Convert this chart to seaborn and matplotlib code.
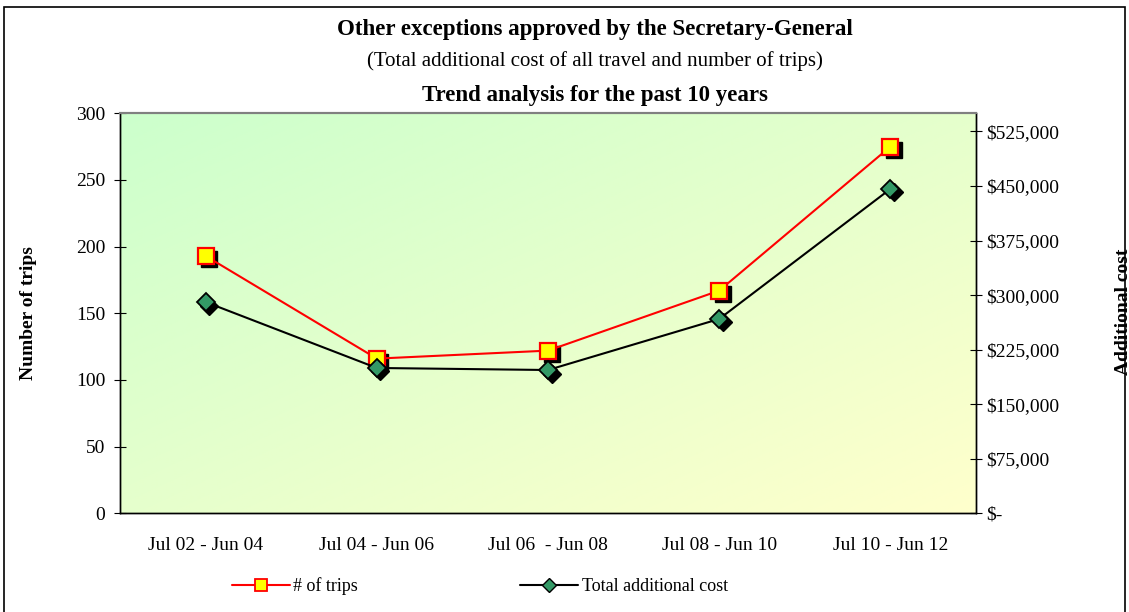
"""
Other exceptions approved by the Secretary-General - trips and additional cost
"""
import numpy as np
import pandas as pd
import matplotlib
matplotlib.use('Agg')
import matplotlib.pyplot as plt
import matplotlib.transforms as mtransforms
from matplotlib.colors import to_rgb
from matplotlib.lines import Line2D
from matplotlib.patches import Rectangle
import seaborn as sns

periods = ['Jul 02 - Jun 04', 'Jul 04 - Jun 06', 'Jul 06  - Jun 08',
           'Jul 08 - Jun 10', 'Jul 10 - Jun 12']
trips = [193, 116, 122, 167, 275]
cost = [290500, 199800, 197000, 267200, 446000]

cost_ticks = [0, 75000, 150000, 225000, 300000, 375000, 450000, 525000]

sns.set_theme(style='white')
plt.rcParams['font.family'] = ['Liberation Serif', 'DejaVu Serif']
plt.rcParams['text.color'] = 'black'
plt.rcParams['axes.labelcolor'] = 'black'
plt.rcParams['xtick.color'] = 'black'
plt.rcParams['ytick.color'] = 'black'

df = pd.DataFrame({'period': periods, 'trips': trips, 'cost': cost})
df['pos'] = np.arange(len(periods))

fig = plt.figure(figsize=(11.29, 6.12), dpi=100)
ax = fig.add_axes([0.1063, 0.1613, 0.7582, 0.6536])
ax2 = ax.twinx()

# diagonal gradient background (green top-left -> yellow bottom-right)
c0 = np.array(to_rgb('#ccffcc'))
c1 = np.array(to_rgb('#ffffcc'))
gx, gy = np.meshgrid(np.linspace(0, 1, 200), np.linspace(0, 1, 200))
t = np.clip((gx + gy) / 2, 0, 1)[..., None]
grad = c0 * (1 - t) + c1 * t
ax.imshow(grad, extent=[0, 1, 0, 1], transform=ax.transAxes,
          aspect='auto', zorder=0, interpolation='bilinear')

# marker shadows
shadow1 = mtransforms.offset_copy(ax.transData, fig=fig, x=3.5, y=-3.5, units='dots')
shadow2 = mtransforms.offset_copy(ax2.transData, fig=fig, x=3.5, y=-3.5, units='dots')
ax.plot(df['pos'], df['trips'], ls='none', marker='s', ms=11.5, color='black',
        transform=shadow1, zorder=2)
ax2.plot(df['pos'], df['cost'], ls='none', marker='D', ms=9.5, color='black',
         transform=shadow2, zorder=2)

sns.lineplot(data=df, x='pos', y='trips', ax=ax, color='red', lw=1.5,
             marker='s', markersize=11.5, markerfacecolor='#ffff00',
             markeredgecolor='red', markeredgewidth=1.6, zorder=3)
sns.lineplot(data=df, x='pos', y='cost', ax=ax2, color='black', lw=1.5,
             marker='D', markersize=9.5, markerfacecolor='#339966',
             markeredgecolor='black', markeredgewidth=1.3, zorder=3)

ax.set_xlim(-0.5, len(periods) - 0.5)
ax.set_ylim(0, 300)
ax2.set_ylim(0, 550000)

# category axis: ticks at boundaries, labels centered
ax.set_xticks(np.arange(-0.5, len(periods), 1.0))
ax.set_xticklabels([])
ax.set_xticks(df['pos'], minor=True)
ax.set_xticklabels(periods, minor=True, fontsize=14)
ax.tick_params(axis='x', which='minor', length=0, pad=17)
ax.tick_params(axis='x', which='major', direction='inout', length=9, width=0.8, color='black')

ax.set_yticks(range(0, 301, 50))
ax.tick_params(axis='y', direction='inout', length=9, width=0.8, labelsize=14, pad=6, color='black')
ax.set_xlabel('')
ax.set_ylabel('Number of trips', fontsize=14, fontweight='bold', labelpad=28)

ax2.set_yticks(cost_ticks)
ax2.set_yticklabels(['$-'] + [f'${v:,.0f}' for v in cost_ticks[1:]])
ax2.tick_params(axis='y', direction='inout', length=9, width=0.8, labelsize=14, pad=3, color='black')
ax2.set_ylabel('')
ax.grid(False)
ax2.grid(False)

for a in (ax, ax2):
    for s in a.spines.values():
        s.set_linewidth(1.0)
        s.set_color('black')
    a.spines['top'].set_color('#808080')
    a.spines['top'].set_linewidth(1.5)

fig.text(1124 / 1129, 0.49, 'Additional cost', rotation=90, ha='center', va='center',
         fontsize=14, fontweight='bold')

fig.text(0.527, 1 - 30 / 612, 'Other exceptions approved by the Secretary-General',
         ha='center', va='center', fontsize=16.5, fontweight='bold')
fig.text(0.527, 1 - 61 / 612, '(Total additional cost of all travel and number of trips)',
         ha='center', va='center', fontsize=15)
fig.text(0.527, 1 - 95 / 612, 'Trend analysis for the past 10 years',
         ha='center', va='center', fontsize=16.5, fontweight='bold')

handles = [
    Line2D([], [], color='red', lw=1.5, marker='s', ms=8, markerfacecolor='#ffff00',
           markeredgecolor='red', markeredgewidth=1.3),
    Line2D([], [], color='black', lw=1.5, marker='D', ms=7, markerfacecolor='#339966',
           markeredgecolor='black', markeredgewidth=1.0),
]
fig.legend(handles, ['# of trips', 'Total additional cost'], loc='center',
           bbox_to_anchor=(0.425, 1 - 586 / 612), ncol=2, frameon=False,
           fontsize=13, handlelength=3.2, handletextpad=0.2, columnspacing=9)

# outer chart border
fig.patches.append(Rectangle((4 / 1129, -0.05), 1121 / 1129, 1 - 7 / 612 + 0.05,
                             transform=fig.transFigure, fill=False,
                             edgecolor='black', lw=1.2))

fig.savefig('out.png', dpi=100)
plt.close(fig)
